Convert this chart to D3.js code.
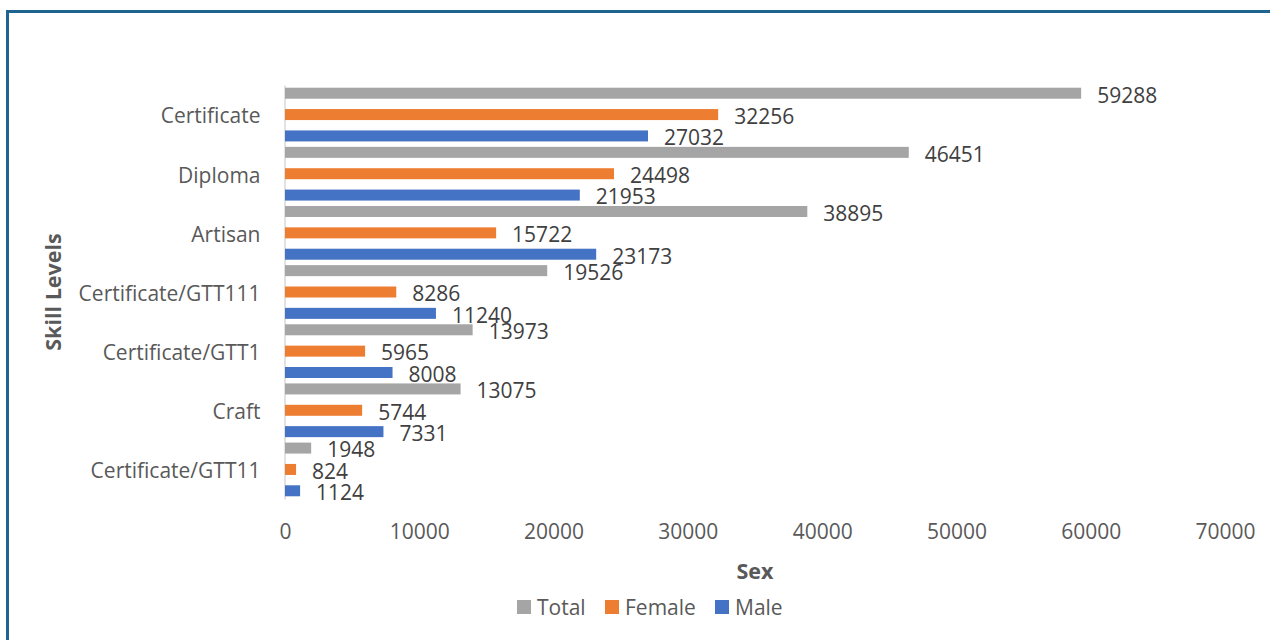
<!DOCTYPE html>
<html>
<head>
<meta charset="utf-8">
<script src="https://cdn.jsdelivr.net/npm/d3@7"></script>
<style>
  body { margin: 0; background: #fff; }
  text { font-family: "Open Sans", sans-serif; }
</style>
</head>
<body>
<div id="chart"></div>
<script>
// chart data
const categories = ["Certificate", "Diploma", "Artisan", "Certificate/GTT111", "Certificate/GTT1", "Craft", "Certificate/GTT11"];
const seriesNames = ["Total", "Female", "Male"];
const totalValues = [59288, 46451, 38895, 19526, 13973, 13075, 1948];
const femaleValues = [32256, 24498, 15722, 8286, 5965, 5744, 824];
const maleValues = [27032, 21953, 23173, 11240, 8008, 7331, 1124];
const xTicks = [0, 10000, 20000, 30000, 40000, 50000, 60000, 70000];

const width = 1270, height = 640;
const fontSize = "21px";
const colors = {Total: "#a5a5a5", Female: "#ed7d31", Male: "#4472c4"};
const seriesValues = {Total: totalValues, Female: femaleValues, Male: maleValues};

let svg = d3.select("#chart")
    .append("svg")
    .attr("width", width)
    .attr("height", height);

// outer frame (runs off the right and bottom edges)
svg.append("rect")
    .attr("x", 7.5)
    .attr("y", 11.5)
    .attr("width", 1400)
    .attr("height", 800)
    .attr("fill", "none")
    .attr("stroke", "#1f6391")
    .attr("stroke-width", 3);

let x = d3.scaleLinear()
    .domain([0, 70000])
    .range([285, 1225]);

let y = d3.scaleBand()
    .domain(categories)
    .range([85, 499])
    .padding(0);

// bars inside each category band
let ySub = d3.scaleBand()
    .domain(seriesNames)
    .range([0, y.bandwidth()])
    .paddingInner(0.485)
    .paddingOuter(0.127);

// x axis tick labels only
let xAxis = svg.append("g")
    .attr("transform", "translate(0, 499)")
    .call(d3.axisBottom(x).tickValues(xTicks).tickFormat(d3.format("d")).tickSize(0).tickPadding(25));
xAxis.select(".domain").remove();
xAxis.selectAll("text")
    .style("font-size", fontSize)
    .style("fill", "#595959");

// y axis with light line
let yAxis = svg.append("g")
    .attr("transform", "translate(284.5, 0)")
    .call(d3.axisLeft(y).tickSize(0).tickSizeOuter(0).tickPadding(24));
yAxis.select(".domain")
    .attr("stroke", "#d9d9d9")
    .attr("stroke-width", 1.5);
yAxis.selectAll("text")
    .attr("dy", "0.42em")
    .style("font-size", fontSize)
    .style("fill", "#595959");

let rows = [];
categories.forEach(function(c, i) {
  seriesNames.forEach(function(s) {
    rows.push({cat: c, series: s, value: seriesValues[s][i]});
  });
});

svg.append("g").selectAll("rect")
    .data(rows)
    .enter()
    .append("rect")
    .attr("x", x(0))
    .attr("y", d => y(d.cat) + ySub(d.series))
    .attr("width", d => x(d.value) - x(0))
    .attr("height", ySub.bandwidth())
    .attr("fill", d => colors[d.series]);

// value labels at bar ends
svg.append("g").selectAll("text")
    .data(rows)
    .enter()
    .append("text")
    .attr("x", d => x(d.value) + 16)
    .attr("y", d => y(d.cat) + ySub(d.series) + ySub.bandwidth() / 2 + 2)
    .attr("dy", "0.35em")
    .style("font-size", fontSize)
    .style("fill", "#404040")
    .text(d => d.value);

// axis titles
svg.append("text")
    .attr("transform", "translate(53, 292) rotate(-90)")
    .attr("text-anchor", "middle")
    .attr("dy", "0.35em")
    .style("font-size", "21.5px")
    .style("font-weight", "bold")
    .style("fill", "#595959")
    .text("Skill Levels");

svg.append("text")
    .attr("x", 755)
    .attr("y", 571)
    .attr("text-anchor", "middle")
    .attr("dy", "0.35em")
    .style("font-size", "21.5px")
    .style("font-weight", "bold")
    .style("fill", "#595959")
    .text("Sex");

// legend
let legendX = [517, 605, 715];
let legend = svg.append("g").selectAll("g")
    .data(seriesNames)
    .enter()
    .append("g")
    .attr("transform", (d, i) => `translate(${legendX[i]}, 607)`);
legend.append("rect")
    .attr("x", 0)
    .attr("y", -7)
    .attr("width", 14)
    .attr("height", 14)
    .attr("fill", d => colors[d]);
legend.append("text")
    .attr("x", 20)
    .attr("dy", "0.38em")
    .style("font-size", fontSize)
    .style("fill", "#595959")
    .text(d => d);
</script>
</body>
</html>
